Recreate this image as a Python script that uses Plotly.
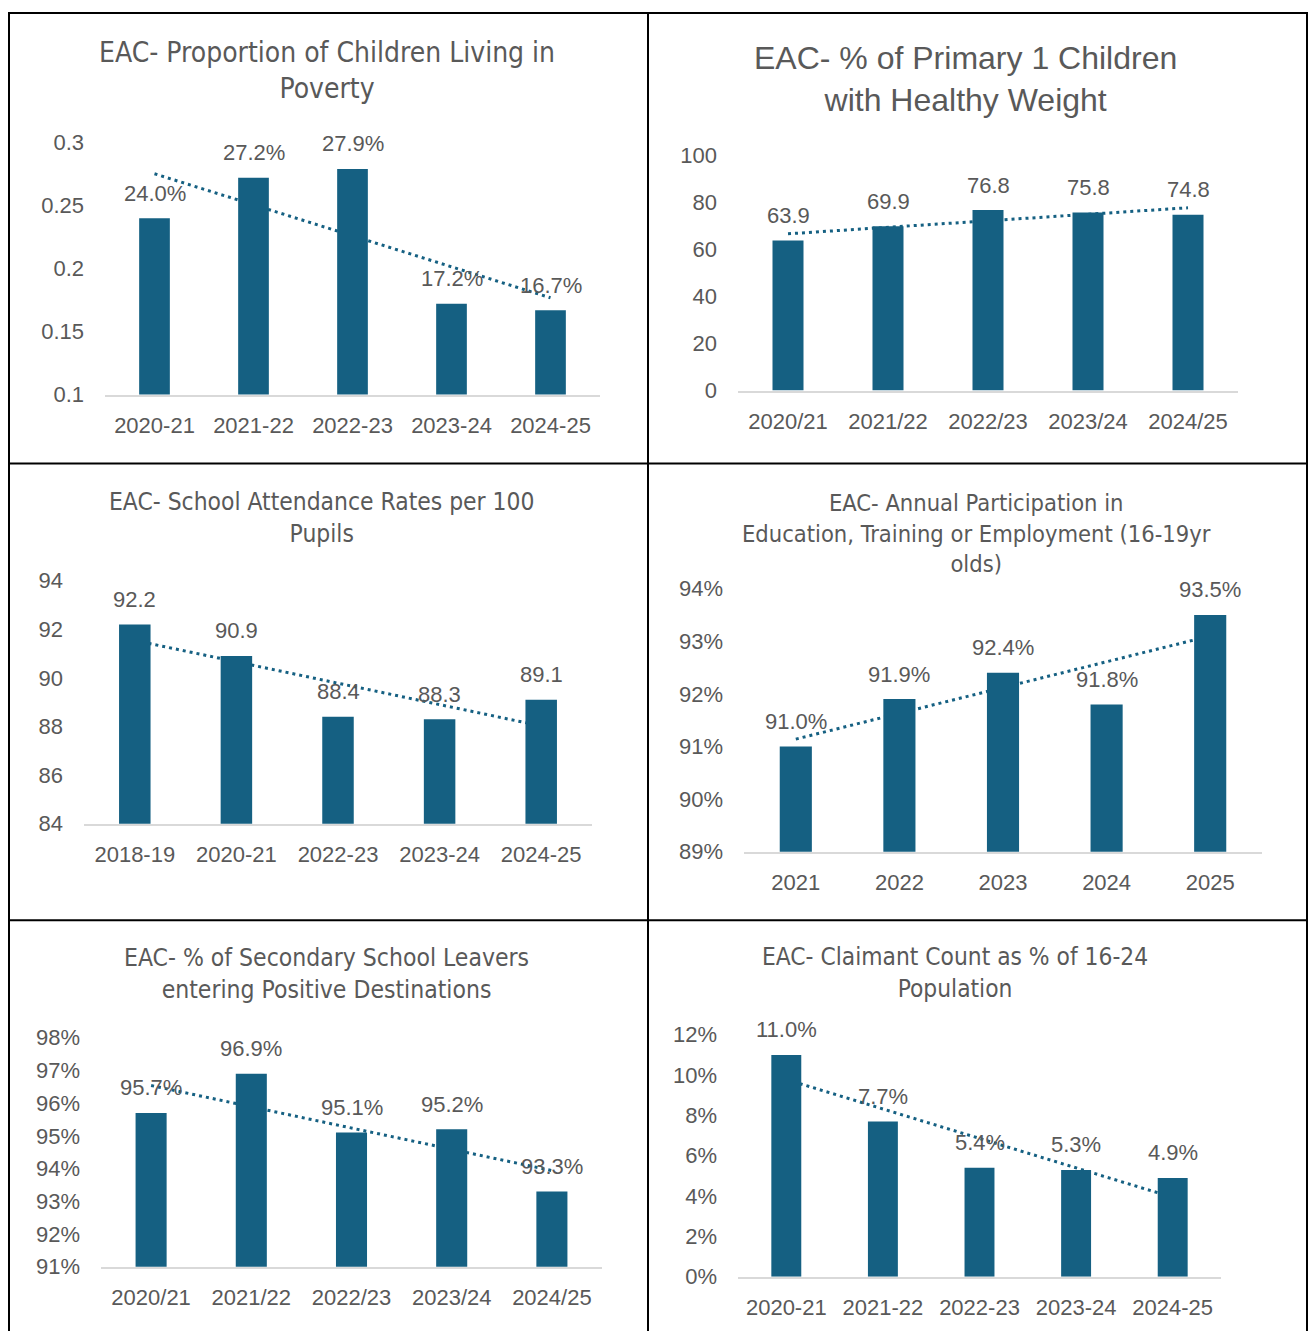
import numpy as np
import plotly.graph_objects as go

W, H = 1309, 1331
# observed vertical mapping of the rendered page: row = 0.981 * figure_px + 11.5
VSCALE, VOFF = 0.981, 11.5

# ---------------- data ----------------
title1 = "EAC- Proportion of Children Living in<br>Poverty"
cats1 = ["2020-21", "2021-22", "2022-23", "2023-24", "2024-25"]
vals1 = [0.240, 0.272, 0.279, 0.172, 0.167]

title2 = "EAC- % of Primary 1 Children<br>with Healthy Weight"
cats2 = ["2020/21", "2021/22", "2022/23", "2023/24", "2024/25"]
vals2 = [63.9, 69.9, 76.8, 75.8, 74.8]

title3 = "EAC- School Attendance Rates per 100<br>Pupils"
cats3 = ["2018-19", "2020-21", "2022-23", "2023-24", "2024-25"]
vals3 = [92.2, 90.9, 88.4, 88.3, 89.1]

title4 = "EAC- Annual Participation in<br>Education, Training or Employment (16-19yr<br>olds)"
cats4 = ["2021", "2022", "2023", "2024", "2025"]
vals4 = [0.910, 0.919, 0.924, 0.918, 0.935]

title5 = "EAC- % of Secondary School Leavers<br>entering Positive Destinations"
cats5 = ["2020/21", "2021/22", "2022/23", "2023/24", "2024/25"]
vals5 = [0.957, 0.969, 0.951, 0.952, 0.933]

title6 = "EAC- Claimant Count as % of 16-24<br>Population"
cats6 = ["2020-21", "2021-22", "2022-23", "2023-24", "2024-25"]
vals6 = [0.110, 0.077, 0.054, 0.053, 0.049]

# ---------------- styling / layout (pixels) ----------------
BAR = "#156082"
TXT = "#595959"
NARROW = "Liberation Sans Narrow, DejaVu Sans Condensed, Arial Narrow, sans-serif"
REG = "Liberation Sans, Arial, sans-serif"


def py(y):
    """target page row -> paper fraction"""
    return 1 - ((y - VOFF) / VSCALE) / H


def px(x):
    return x / W


panels = [
    dict(title=title1, cats=cats1, vals=vals1, box=(105, 600, 142, 394), rng=(0.1, 0.3), dtick=0.05,
         tickformat="", labfmt="{:.1%}", tpos=(327, 70), tsize=28, tfont=NARROW),
    dict(title=title2, cats=cats2, vals=vals2, box=(738, 1238, 155, 390), rng=(0, 100), dtick=20,
         tickformat="", labfmt="{:.1f}", tpos=(965, 78), tsize=32, tfont=REG),
    dict(title=title3, cats=cats3, vals=vals3, box=(84, 592, 580, 823), rng=(84, 94), dtick=2,
         tickformat="", labfmt="{:.1f}", tpos=(321, 517), tsize=24.4, tfont=NARROW),
    dict(title=title4, cats=cats4, vals=vals4, box=(744, 1262, 588, 851), rng=(0.89, 0.94), dtick=0.01,
         tickformat=".0%", labfmt="{:.1%}", tpos=(976, 533), tsize=23.5, tfont=NARROW),
    dict(title=title5, cats=cats5, vals=vals5, box=(101, 602, 1037, 1266), rng=(0.91, 0.98), dtick=0.01,
         tickformat=".0%", labfmt="{:.1%}", tpos=(326, 973), tsize=24.5, tfont=NARROW),
    dict(title=title6, cats=cats6, vals=vals6, box=(738, 1221, 1034, 1276), rng=(0, 0.12), dtick=0.02,
         tickformat=".0%", labfmt="{:.1%}", tpos=(955, 972), tsize=24.3, tfont=NARROW),
]

fig = go.Figure()
annotations = []
shapes = []
layout = {}

for i, p in enumerate(panels, start=1):
    xa = "x" if i == 1 else f"x{i}"
    ya = "y" if i == 1 else f"y{i}"
    x0, x1, yt, yb = p["box"]
    n = len(p["cats"])

    fig.add_trace(go.Bar(
        x=p["cats"], y=p["vals"], xaxis=xa, yaxis=ya,
        marker=dict(color=BAR, line=dict(width=0)),
        showlegend=False,
    ))

    # Excel-style linear trendline, drawn beneath the bars (x given as category index)
    xs = np.arange(1, n + 1)
    slope, intercept = np.polyfit(xs, p["vals"], 1)
    shapes.append(dict(
        type="line", xref=xa, yref=ya, layer="below",
        x0=0, x1=n - 1,
        y0=slope * xs[0] + intercept, y1=slope * xs[-1] + intercept,
        line=dict(color=BAR, width=3, dash="3px,4px"),
    ))

    # data labels above the bars (x given as category index)
    for k, v in enumerate(p["vals"]):
        annotations.append(dict(
            x=k, y=v, xref=xa, yref=ya, text=p["labfmt"].format(v),
            showarrow=False, yanchor="middle", yshift=25,
            font=dict(family=REG, size=22, color=TXT),
        ))

    # chart title
    annotations.append(dict(
        x=px(p["tpos"][0]), y=py(p["tpos"][1]), xref="paper", yref="paper",
        text=p["title"], showarrow=False, xanchor="center", yanchor="middle", align="center",
        font=dict(family=p["tfont"], size=p["tsize"], color=TXT),
    ))

    key_x = "xaxis" if i == 1 else f"xaxis{i}"
    key_y = "yaxis" if i == 1 else f"yaxis{i}"
    layout[key_x] = dict(
        domain=[px(x0), px(x1)], anchor=ya, type="category",
        range=[-0.5, n - 0.5],
        showgrid=False, zeroline=False, showline=True, linecolor="#D9D9D9", linewidth=2,
        ticks="", ticklabelstandoff=10, tickfont=dict(family=REG, size=22, color=TXT),
        fixedrange=True,
    )
    layout[key_y] = dict(
        domain=[py(yb), py(yt)], anchor=xa, range=list(p["rng"]),
        tick0=p["rng"][0], dtick=p["dtick"], tickformat=p["tickformat"],
        showgrid=False, zeroline=False, showline=False, ticks="",
        ticklabelstandoff=20, tickfont=dict(family=REG, size=22, color=TXT),
        fixedrange=True,
    )


# table borders
def hline(y, xa, xb):
    return dict(type="line", xref="paper", yref="paper", x0=px(xa), x1=px(xb),
                y0=py(y), y1=py(y), line=dict(color="black", width=2))


def vline(x, ya, yb):
    return dict(type="line", xref="paper", yref="paper", x0=px(x), x1=px(x),
                y0=py(ya), y1=py(yb), line=dict(color="black", width=2))


shapes += [
    hline(12.5, 8, 1308), hline(463, 8, 1308), hline(919.5, 8, 1308),
    vline(9, 11.5, 1340), vline(648, 11.5, 1340), vline(1307, 11.5, 1340),
]

fig.update_layout(
    width=W, height=H, margin=dict(l=0, r=0, t=0, b=0),
    paper_bgcolor="white", plot_bgcolor="rgba(0,0,0,0)",
    bargap=0.69, showlegend=False,
    annotations=annotations, shapes=shapes, **layout,
)

fig.write_html("out.html")
